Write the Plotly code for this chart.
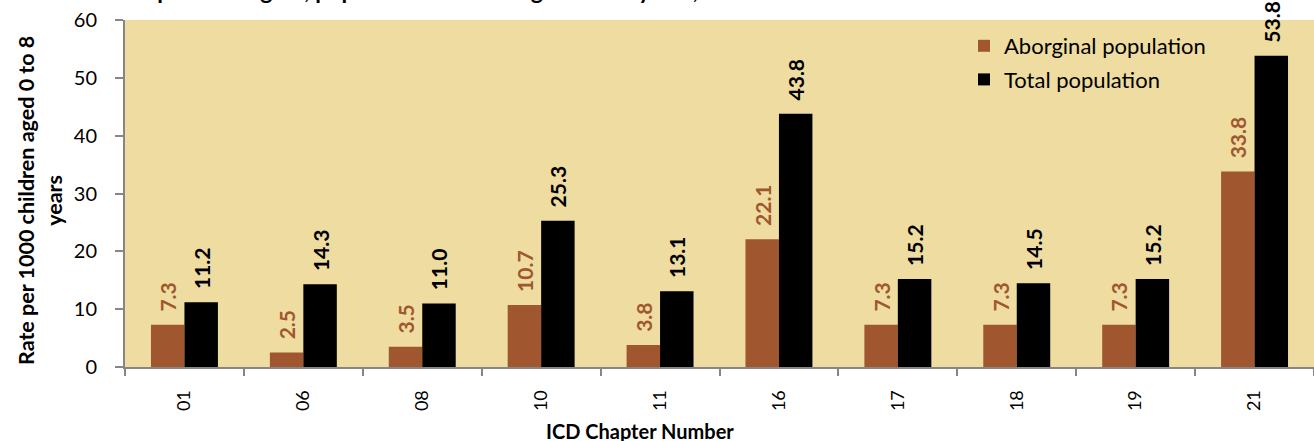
import plotly.graph_objects as go

categories = ["01", "06", "08", "10", "11", "16", "17", "18", "19", "21"]
aboriginal = [7.3, 2.5, 3.5, 10.7, 3.8, 22.1, 7.3, 7.3, 7.3, 33.8]
total = [11.2, 14.3, 11.0, 25.3, 13.1, 43.8, 15.2, 14.5, 15.2, 53.8]
y_ticks = [0, 10, 20, 30, 40, 50, 60]

BROWN = "#A0572F"
BG = "#EEDCA0"
AXIS = "#868686"
FONT = "Lato, 'Open Sans', sans-serif"
NB = "\u00a0"

W, H = 1314, 441
L, R, T, B = 125, 0, 20, 74
pw, ph = W - L - R, H - T - B


def py(p):
    """paper y for a pixel row measured from the top of the figure"""
    return (T + ph - p) / ph


def px(p):
    return (p - L) / pw


fig = go.Figure()
fig.add_trace(go.Bar(
    name="Aborginal population", x=categories, y=aboriginal,
    legendgroup="a",
    marker=dict(color=BROWN, line=dict(width=0)),
    text=[NB * 2 + f"{v:.1f}" for v in aboriginal], textposition="outside", textangle=-90,
    textfont=dict(color=BROWN, size=21, family=FONT, weight="bold"),
    constraintext="none", cliponaxis=False,
))
fig.add_trace(go.Bar(
    name="Total population", x=categories, y=total,
    legendgroup="b",
    marker=dict(color="#000000", line=dict(width=0)),
    text=[NB * 2 + f"{v:.1f}" for v in total], textposition="outside", textangle=-90,
    textfont=dict(color="#000000", size=21, family=FONT, weight="bold"),
    constraintext="none", cliponaxis=False,
))

fig.update_layout(
    width=W, height=H,
    margin=dict(l=L, r=R, t=T, b=B, autoexpand=False),
    paper_bgcolor="white", plot_bgcolor=BG,
    barmode="group", bargap=0.437, bargroupgap=0,
    font=dict(family=FONT, color="#000000"),
    showlegend=True,
    legend=dict(
        x=px(964), y=py(25), xanchor="left", yanchor="top",
        bgcolor="rgba(0,0,0,0)", font=dict(size=22, family=FONT, color="#000000"),
        itemwidth=30, traceorder="grouped", tracegroupgap=2,
    ),
)

fig.update_xaxes(
    type="category", tickangle=-90, tickson="boundaries",
    ticks="outside", ticklen=7, tickcolor=AXIS, tickwidth=1.5,
    showline=True, linecolor=AXIS, linewidth=2,
    showgrid=False, tickfont=dict(size=18, family=FONT, color="#000000"),
    ticklabelstandoff=14,
)
fig.update_yaxes(
    range=[0, 60], tickvals=y_ticks, ticks="outside", ticklen=8, tickcolor=AXIS, tickwidth=1.5,
    showline=True, linecolor=AXIS, linewidth=2, showgrid=False, zeroline=False,
    tickfont=dict(size=20, family=FONT, color="#000000"),
    ticklabelstandoff=14,
)

fig.add_annotation(
    text="<b>Rate per 1000 children aged 0 to 8</b><br><b>years</b>",
    xref="paper", yref="paper", x=px(40), y=py(201),
    xanchor="center", yanchor="middle", textangle=-90, showarrow=False,
    font=dict(size=21.5, family=FONT, color="#000000"),
)
fig.add_annotation(
    text="<b>ICD Chapter Number</b>",
    xref="paper", yref="paper", x=px(640), y=py(431),
    xanchor="center", yanchor="middle", showarrow=False,
    font=dict(size=20, family=FONT, color="#000000"),
)
fig.add_annotation(
    text="<b>Source: Metropolitan Region, population children aged 0 to 8 years, 2005-06</b>",
    xref="paper", yref="paper", x=px(10), y=py(6),
    xanchor="left", yanchor="bottom", showarrow=False,
    font=dict(size=23, family=FONT, color="#000000"),
)

fig.write_html(
    "out.html",
    config={"displayModeBar": False},
    post_script="document.body.style.margin='0';document.body.style.overflow='hidden';",
)
